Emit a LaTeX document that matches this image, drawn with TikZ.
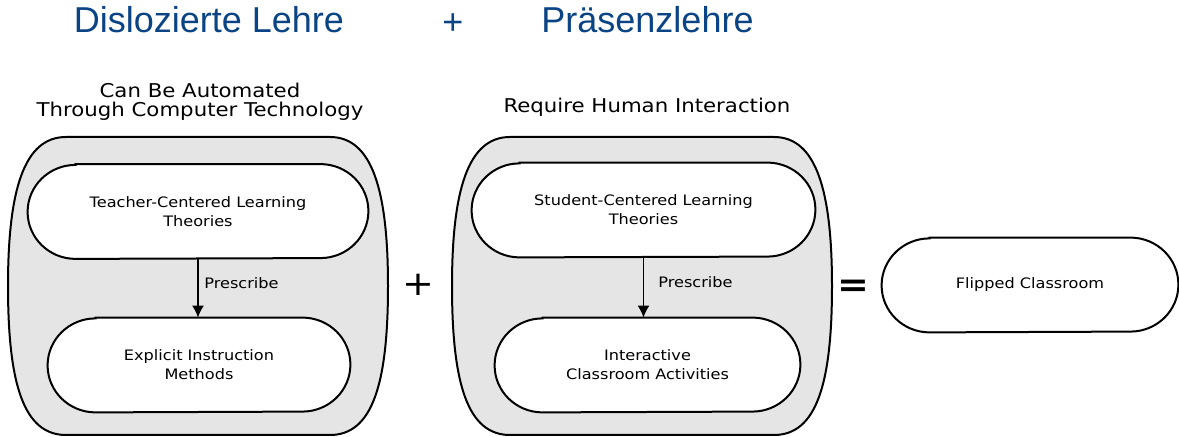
\documentclass[tikz,border=0pt]{standalone}
\usepackage{fontspec}
\usetikzlibrary{arrows.meta,backgrounds}
\newfontfamily\diafont[FakeStretch=1.12]{DejaVu Sans}
\newfontfamily\titlefont{Liberation Sans}
\definecolor{titleblue}{RGB}{10,68,132}

\begin{document}
\begin{tikzpicture}[x=0.5pt,y=-0.5pt,
		box/.style={line width=1pt,fill=black!10},
		pillline/.style={line width=1pt,fill=white},
		pill/.style={inner sep=0pt,minimum height=47pt,align=center,font=\diafont\fontsize{7.2}{9.6}\selectfont},
		head/.style={inner sep=0pt,align=center,font=\diafont\fontsize{9.5}{9.5}\selectfont},
		title/.style={inner sep=0pt,text=titleblue,font=\titlefont\fontsize{18}{20}\selectfont},
		flow/.style={line width=0.75pt,-{Latex[length=6pt,width=6pt]}}]
		\useasboundingbox (0,0) rectangle (1179,437);
		
		\node[title,anchor=base] (dl) at (209,33) {Dislozierte Lehre};
		\node[title] (tplus) at (453,24) {+};
		\node[title,anchor=base] (pl) at (647.5,33) {Präsenzlehre};
		
		\node[head] (hl) at (200,102) {Can Be Automated\\Through Computer Technology};
		\node[head,anchor=base] (hr) at (647,113) {Require Human Interaction};
		
		\node[pill,minimum width=122pt] (tcl) at (198,211.5) {Teacher-Centered Learning\\Theories};
		\node[pill,minimum width=103pt] (eim) at (199,365) {Explicit Instruction\\Methods};
		\node[pill,minimum width=123.5pt] (scl) at (643.5,210) {Student-Centered Learning\\Theories};
		\node[pill,minimum width=104.5pt] (ica) at (647.5,365) {Interactive\\Classroom Activities};
		\node[pill,minimum width=100pt] (fcr) at (1030,285) {Flipped Classroom};
		
		\node[pill,minimum height=0pt,anchor=base west] (pr1) at (204,289) {Prescribe};
		\node[pill,minimum height=0pt,anchor=base west] (pr2) at (658,288) {Prescribe};
		\node[inner sep=0pt,font=\diafont\fontsize{17}{17}\selectfont] (plus) at (418,285) {+};
		\node[inner sep=0pt,font=\diafont\bfseries\fontsize{17}{17}\selectfont] (eq) at (853,288) {=};
		
		\draw[flow] (tcl.south) -- (tcl.south |- eim.north);
		\draw[flow] (scl.south) -- (scl.south |- ica.north);
		
		\begin{scope}[on background layer]
		\draw[box] (66,137) -- (330,137) .. controls (372,137) and (388,190) .. (388,286) .. controls (388,385) and (372,435) .. (330,435) -- (66,435) .. controls (24,435) and (8,385) .. (8,286) .. controls (8,190) and (24,137) .. cycle;
		\draw[box] (510,137) -- (774,137) .. controls (816,137) and (832,190) .. (832,286) .. controls (832,385) and (816,435) .. (774,435) -- (510,435) .. controls (468,435) and (452,385) .. (452,286) .. controls (452,190) and (468,137) .. cycle;
		\foreach \n in {tcl,eim,scl,ica,fcr}
		\draw[pillline] (\n.north west) -- (\n.north east) arc[start angle=90,end angle=-90,x radius=24pt,y radius=23.5pt] -- (\n.south west) arc[start angle=270,end angle=90,x radius=24pt,y radius=23.5pt] -- cycle;
		\end{scope}
		
	\end{tikzpicture}
\end{document}
